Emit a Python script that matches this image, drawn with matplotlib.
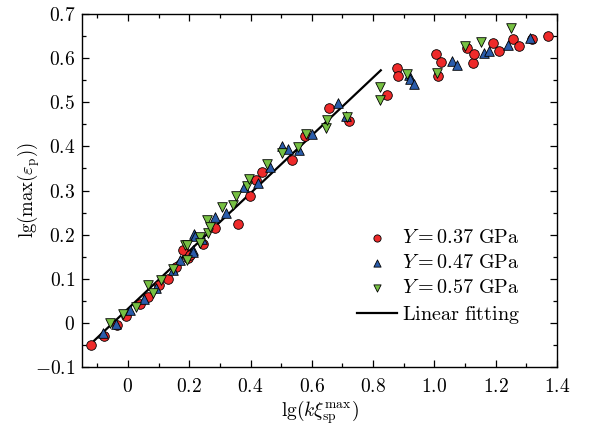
import numpy as np
import matplotlib
matplotlib.use("Agg")
import matplotlib.pyplot as plt
from matplotlib.ticker import MultipleLocator, FuncFormatter

plt.rcParams['mathtext.fontset'] = 'cm'
plt.rcParams['font.family'] = 'serif'
plt.rcParams['font.serif'] = ['cmr10', 'DejaVu Serif']
plt.rcParams['axes.formatter.use_mathtext'] = True

# ---- data ----
red_x = [-0.12, -0.078, -0.035, -0.005, 0.038, 0.065, 0.10, 0.131, 0.156, 0.180, 0.196, 0.201, 0.245,
         0.285, 0.359, 0.397, 0.417, 0.438, 0.536, 0.577, 0.656, 0.722,
         0.844, 0.877, 0.882, 1.005, 1.011, 1.021, 1.105, 1.125, 1.129, 1.190, 1.210, 1.256, 1.277, 1.317, 1.370]
red_y = [-0.051, -0.030, -0.005, 0.015, 0.042, 0.059, 0.085, 0.099, 0.127, 0.165, 0.146, 0.153, 0.178,
         0.216, 0.223, 0.287, 0.324, 0.341, 0.370, 0.423, 0.488, 0.458,
         0.516, 0.578, 0.560, 0.610, 0.559, 0.592, 0.624, 0.590, 0.609, 0.635, 0.616, 0.643, 0.628, 0.643, 0.650]

blue_x = [-0.082, -0.038, 0.006, 0.051, 0.093, 0.147, 0.169, 0.212, 0.213, 0.215, 0.218, 0.240,
          0.285, 0.321, 0.378, 0.423, 0.465, 0.501, 0.523, 0.558, 0.602, 0.686, 0.713,
          0.917, 0.920, 0.933, 1.056, 1.075, 1.162, 1.179, 1.241, 1.312]
blue_y = [-0.024, -0.003, 0.029, 0.055, 0.078, 0.119, 0.142, 0.165, 0.161, 0.201, 0.197, 0.191,
          0.240, 0.248, 0.307, 0.317, 0.354, 0.401, 0.395, 0.392, 0.429, 0.499, 0.469,
          0.562, 0.553, 0.541, 0.594, 0.584, 0.611, 0.617, 0.630, 0.646]

green_x = [-0.060, -0.016, 0.027, 0.065, 0.082, 0.109, 0.147, 0.187, 0.191, 0.191, 0.234, 0.234, 0.258,
           0.261, 0.267, 0.307, 0.343, 0.354, 0.387, 0.395, 0.455, 0.501, 0.555, 0.580, 0.645, 0.648, 0.716,
           0.824, 0.824, 0.909, 1.007, 1.100, 1.151, 1.249]
green_y = [-0.001, 0.021, 0.035, 0.085, 0.067, 0.098, 0.123, 0.176, 0.142, 0.176, 0.195, 0.180, 0.234,
           0.203, 0.218, 0.262, 0.267, 0.287, 0.310, 0.327, 0.361, 0.384, 0.399, 0.429, 0.441, 0.460, 0.467,
           0.535, 0.505, 0.563, 0.566, 0.627, 0.636, 0.668]

fit_slope = 0.655
fit_intercept = 0.032
fit_range = [-0.11, 0.825]

labels = [r'$Y=0.37\ \mathrm{GPa}$', r'$Y=0.47\ \mathrm{GPa}$',
          r'$Y=0.57\ \mathrm{GPa}$', r'$\mathrm{Linear\ fitting}$']

# ---- plot ----
fig = plt.figure(figsize=(5.9, 4.26), dpi=100)
ax = fig.add_axes([82/590, 59/426, 475/590, 353/426])

fx = np.array(fit_range)
ax.plot(fx, fit_intercept + fit_slope * fx, color='black', lw=1.6, zorder=1, label=labels[3])

kw = dict(s=48, edgecolors='black', linewidths=0.6, zorder=3)
ax.scatter(red_x, red_y, marker='o', color='#ee2a2a', label=labels[0], **kw)
ax.scatter(blue_x, blue_y, marker='^', color='#2a5caa', label=labels[1], **kw)
ax.scatter(green_x, green_y, marker='v', color='#77c043', label=labels[2], **kw)

ax.set_xlim(-0.15, 1.4)
ax.set_ylim(-0.1, 0.7)
ax.xaxis.set_major_locator(MultipleLocator(0.2))
ax.xaxis.set_minor_locator(MultipleLocator(0.1))
ax.yaxis.set_major_locator(MultipleLocator(0.1))
ax.yaxis.set_minor_locator(MultipleLocator(0.05))

def fmt(v, pos):
    if abs(v) < 1e-9:
        return r'$0$'
    return r'$%.1f$' % v

ax.xaxis.set_major_formatter(FuncFormatter(fmt))
ax.yaxis.set_major_formatter(FuncFormatter(fmt))
ax.tick_params(which='both', direction='in', top=True, right=True, labelsize=14)
ax.tick_params(which='major', length=5, width=0.9)
ax.tick_params(which='minor', length=3, width=0.9)
ax.tick_params(axis='x', which='major', pad=8)
ax.tick_params(axis='y', which='major', pad=5)
for s in ax.spines.values():
    s.set_linewidth(1.0)

ax.set_xlabel(r'$\mathrm{lg}(k\xi_{\mathrm{sp}}^{\max})$', fontsize=14, labelpad=2)
ax.set_ylabel(r'$\mathrm{lg}(\max(\varepsilon_{\mathrm{p}}))$', fontsize=13.5, labelpad=-5)

h, l = ax.get_legend_handles_labels()
order = [1, 2, 3, 0]
ax.legend([h[i] for i in order], [l[i] for i in order], loc='upper left',
          bbox_to_anchor=(0.579, 0.39), frameon=False, fontsize=14.5, markerscale=0.75,
          handlelength=2.0, handletextpad=0.25, labelspacing=0.33, borderaxespad=0.0,
          borderpad=0.0)

fig.savefig('out.png', dpi=100)
